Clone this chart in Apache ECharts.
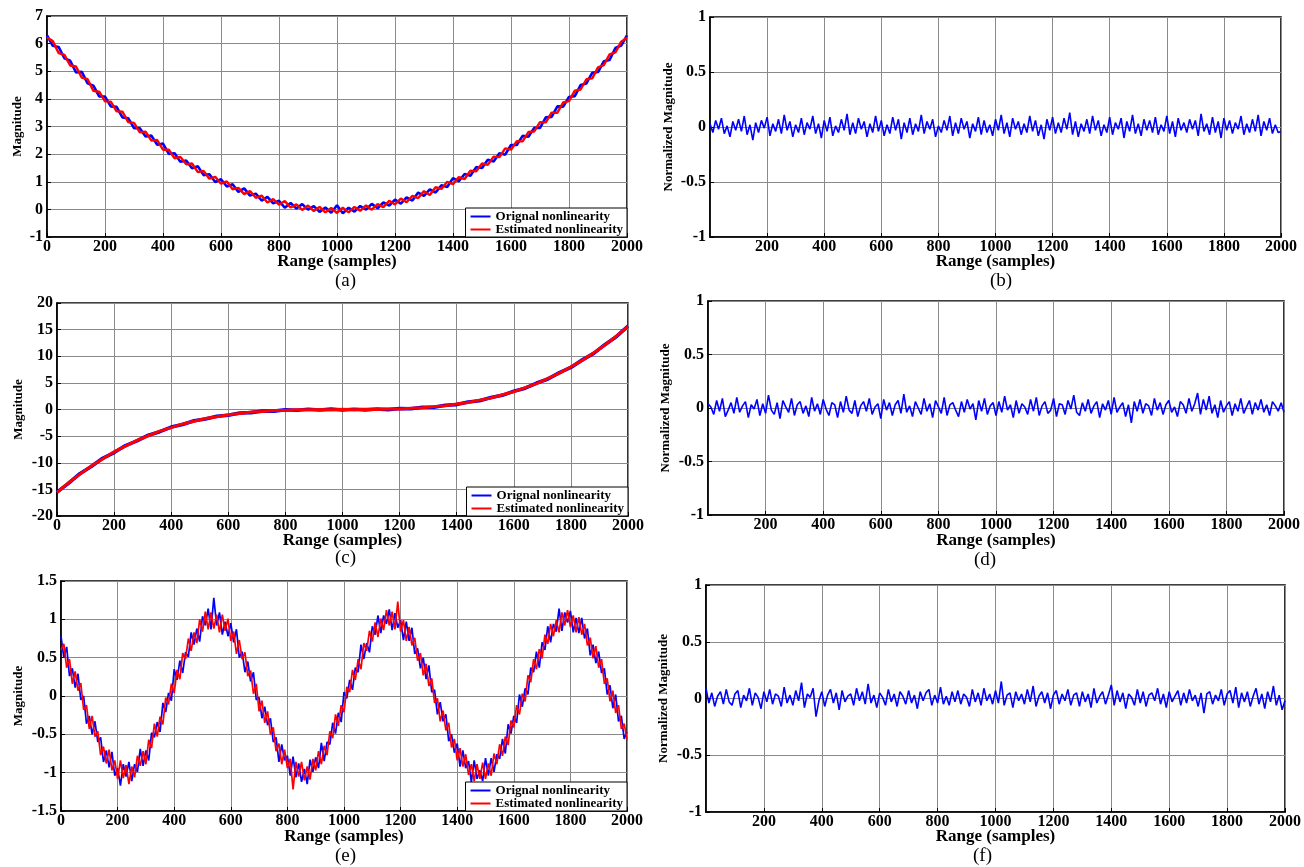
<!DOCTYPE html>
<html><head><meta charset="utf-8">
<script src="https://cdn.jsdelivr.net/npm/echarts@6/dist/echarts.min.js"></script>
<style>html,body{margin:0;padding:0;background:#fff}#c{width:1304px;height:867px}</style>
</head><body><div id="c"></div>
<script>
// ---- data ----
const panelLabels = ['(a)','(b)','(c)','(d)','(e)','(f)'];
const legendNames = ['Orignal nonlinearity','Estimated nonlinearity'];
const stepA = 20, stepC = 40, stepE = 10, stepRes = 10;

const aOriginal = [6.30,5.92,5.88,5.47,5.38,4.96,4.98,4.56,4.48,4.09,
4.08,3.73,3.71,3.33,3.30,2.94,2.94,2.64,2.67,2.34,
2.38,2.01,2.03,1.72,1.77,1.49,1.56,1.24,1.27,0.99,
1.09,0.83,0.91,0.63,0.76,0.50,0.57,0.32,0.45,0.22,
0.31,0.06,0.23,0.03,0.19,-0.01,0.12,-0.09,0.07,-0.12,
0.15,
-0.14,0.06,-0.08,0.12,-0.01,0.20,0.04,0.25,0.14,0.35,
0.21,0.43,0.32,0.61,0.49,0.72,0.61,0.87,0.81,1.13,
1.02,1.28,1.22,1.53,1.50,1.80,1.73,2.03,1.98,2.33,
2.33,2.66,2.63,2.95,2.95,3.33,3.35,3.73,3.72,4.07,
4.10,4.50,4.56,4.94,4.97,5.36,5.41,5.84,5.93,6.30];
const aEstimated = [6.22,6.09,5.66,5.59,5.21,5.17,4.77,4.71,4.29,4.26,
3.91,3.90,3.55,3.54,3.16,3.13,2.79,2.81,2.49,2.51,
2.16,2.16,1.85,1.90,1.63,1.66,1.35,1.39,1.11,1.18,
0.93,1.01,0.73,0.78,0.55,0.66,0.42,0.50,0.25,0.37,
0.17,0.30,0.07,0.18,-0.02,0.14,-0.06,0.09,-0.11,0.05,
-0.13,
0.06,-0.11,0.09,-0.05,0.14,-0.01,0.19,0.08,0.31,0.18,
0.39,0.26,0.49,0.41,0.66,0.52,0.80,0.74,1.00,0.91,
1.17,1.10,1.40,1.38,1.66,1.61,1.91,1.89,2.21,2.16,
2.47,2.46,2.80,2.82,3.16,3.15,3.50,3.50,3.87,3.92,
4.30,4.34,4.71,4.74,5.14,5.22,5.61,5.68,6.07,6.21];

const cOriginal = [-15.52,-13.88,-12.05,-10.71,-9.16,-8.08,-6.77,-5.90,-4.82,-4.17,
-3.30,-2.82,-2.12,-1.80,-1.26,-1.08,-0.66,-0.59,-0.27,-0.30,
-0.05,-0.14,0.04,-0.09,0.07,-0.08,0.06,-0.07,0.10,-0.02,
0.19,0.14,0.41,0.43,0.80,0.92,1.40,1.65,2.26,2.66,
3.44,4.01,4.97,5.74,6.92,7.91,9.32,10.55,12.22,13.72,15.65];
const cEstimated = [-15.58,-13.76,-12.18,-10.60,-9.28,-7.95,-6.88,-5.79,-4.93,-4.06,
-3.40,-2.71,-2.22,-1.70,-1.36,-0.97,-0.76,-0.48,-0.37,-0.19,
-0.15,-0.03,-0.06,0.02,-0.03,0.03,-0.03,0.04,0.00,0.09,
0.09,0.25,0.31,0.54,0.70,1.03,1.30,1.76,2.16,2.77,
3.34,4.12,4.87,5.85,6.82,8.02,9.22,10.66,12.12,13.83,15.58];

const eOriginal = [0.78,0.50,0.64,0.26,0.36,0.11,0.29,-0.05,0.00,-0.36,
-0.26,-0.50,-0.33,-0.60,-0.54,-0.86,-0.71,-0.93,-0.73,-1.04,
-0.94,-1.17,-0.89,-1.05,-0.86,-1.11,-0.89,-0.99,-0.69,-0.91,
-0.71,-0.84,-0.48,-0.54,-0.34,-0.47,-0.09,-0.21,0.04,-0.06,
0.35,0.21,0.46,0.30,0.57,0.51,0.83,0.67,0.88,0.71,
1.04,0.92,1.14,0.87,1.28,0.92,1.09,0.80,0.97,0.78,
0.95,0.70,0.87,0.50,0.58,0.31,0.45,0.19,0.31,-0.05,
-0.02,-0.29,-0.14,-0.38,-0.29,-0.60,-0.54,-0.86,-0.63,-0.84,
-0.78,-1.04,-0.79,-1.06,-0.88,-1.12,-0.95,-1.15,-0.83,-0.99,
-0.80,-0.94,-0.61,-0.85,-0.60,-0.63,-0.35,-0.49,-0.22,-0.34,
0.05,-0.03,0.21,0.08,0.37,0.31,0.67,0.48,0.69,0.57,
0.91,0.80,1.05,0.82,1.05,0.94,1.13,0.86,1.08,0.89,
0.99,0.73,0.97,0.72,0.89,0.55,0.62,0.36,0.50,0.22,
0.40,0.05,0.08,-0.24,-0.08,-0.33,-0.24,-0.59,-0.50,-0.74,
-0.62,-0.92,-0.71,-0.94,-0.85,-1.12,-0.84,-1.08,-0.97,-1.11,
-0.81,-1.04,-0.81,-0.99,-0.76,-0.82,-0.56,-0.75,-0.37,-0.49,
-0.26,-0.35,0.02,-0.14,0.10,0.02,0.37,0.31,0.58,0.37,
0.70,0.60,0.91,0.70,0.94,0.84,1.14,0.85,1.09,0.96,
1.11,0.83,1.02,0.82,1.02,0.75,0.88,0.53,0.67,0.43,
0.58,0.30,0.36,0.02,0.14,-0.16,0.02,-0.33,-0.26,-0.56,
-0.47];
const eEstimated = [0.60,0.68,0.37,0.48,0.16,0.32,0.07,0.17,-0.18,-0.12,
-0.43,-0.26,-0.53,-0.46,-0.77,-0.66,-0.88,-0.70,-0.97,-0.84,
-1.08,-0.84,-1.07,-0.90,-1.15,-0.92,-1.06,-0.78,-0.91,-0.72,
-0.89,-0.57,-0.68,-0.36,-0.53,-0.27,-0.37,-0.02,-0.11,0.16,
0.04,0.34,0.22,0.56,0.48,0.75,0.59,0.83,0.69,1.00,
0.84,1.10,0.87,1.09,0.88,1.06,0.83,1.06,0.85,1.01,
0.72,0.84,0.55,0.73,0.48,0.57,0.26,0.33,0.03,0.16,
-0.20,-0.06,-0.35,-0.20,-0.50,-0.41,-0.72,-0.62,-0.89,-0.70,
-0.94,-0.82,-1.22,-0.86,-1.05,-0.86,-1.10,-0.92,-1.09,-0.82,
-0.97,-0.72,-0.89,-0.65,-0.77,-0.46,-0.55,-0.24,-0.39,-0.12,
-0.21,0.12,0.05,0.34,0.21,0.48,0.35,0.69,0.59,0.85,
0.71,0.96,0.77,1.01,0.86,1.12,0.92,1.10,0.87,1.23,
0.84,0.99,0.72,0.90,0.66,0.76,0.46,0.56,0.27,0.42,
0.13,0.23,-0.09,-0.03,-0.33,-0.19,-0.45,-0.35,-0.67,-0.56,
-0.84,-0.68,-0.92,-0.76,-1.03,-0.89,-1.11,-0.89,-1.08,-0.87,
-1.08,-0.88,-1.04,-0.75,-0.89,-0.63,-0.78,-0.53,-0.64,-0.32,
-0.41,-0.12,-0.24,0.03,-0.07,0.27,0.18,0.48,0.35,0.61,
0.49,0.80,0.68,0.94,0.78,0.99,0.83,1.09,0.92,1.12,
0.90,1.05,0.83,1.03,0.80,0.94,0.66,0.76,0.49,0.65,
0.37,0.48,0.16,0.23,-0.07,0.07,-0.22,-0.12,-0.43,-0.36,
-0.57];

const bResidual = [0.03,-0.05,0.06,-0.02,0.08,-0.06,0.01,-0.09,0.05,-0.03,
0.07,-0.04,0.10,-0.07,0.02,-0.12,0.04,-0.05,0.06,-0.01,
0.09,-0.08,0.03,-0.04,0.07,-0.06,0.11,-0.03,0.05,-0.09,
0.02,-0.05,0.08,-0.07,0.04,-0.02,0.10,-0.06,0.03,-0.10,
0.06,-0.04,0.09,-0.08,0.01,-0.05,0.07,-0.03,0.12,-0.07,
0.04,-0.06,0.08,-0.02,0.05,-0.09,0.03,-0.05,0.10,-0.04,
0.06,-0.08,0.02,-0.06,0.09,-0.03,0.07,-0.11,0.04,-0.05,
0.08,-0.07,0.03,-0.04,0.11,-0.06,0.05,-0.02,0.07,-0.09,
0.01,-0.05,0.06,-0.03,0.10,-0.08,0.04,-0.06,0.08,-0.02,
0.05,-0.10,0.03,-0.04,0.09,-0.07,0.06,-0.05,0.02,-0.08,
0.07,-0.03,0.11,-0.06,0.04,-0.09,0.08,-0.02,0.05,-0.07,
0.03,-0.05,0.10,-0.04,0.06,-0.08,0.02,-0.11,0.07,-0.03,
0.09,-0.06,0.04,-0.05,0.08,-0.02,0.13,-0.07,0.05,-0.09,
0.03,-0.04,0.07,-0.06,0.10,-0.03,0.06,-0.08,0.02,-0.05,
0.09,-0.07,0.04,-0.02,0.08,-0.10,0.05,-0.04,0.11,-0.06,
0.03,-0.08,0.07,-0.03,0.06,-0.05,0.09,-0.07,0.02,-0.04,
0.10,-0.06,0.05,-0.09,0.08,-0.03,0.04,-0.05,0.07,-0.02,
0.06,-0.08,0.12,-0.04,0.03,-0.07,0.09,-0.05,0.05,-0.10,
0.08,-0.03,0.06,-0.06,0.04,-0.02,0.10,-0.07,0.03,-0.05,
0.07,-0.04,0.11,-0.08,0.05,-0.03,0.08,-0.06,0.02,-0.05,
-0.04];
const dResidual = [0.04,0.01,-0.06,0.07,-0.03,0.09,-0.08,-0.02,0.05,-0.05,
0.10,-0.04,0.02,0.06,-0.09,0.03,-0.01,0.08,-0.07,0.04,
-0.05,0.12,-0.02,-0.06,0.05,-0.10,0.07,0.01,-0.04,0.09,
-0.07,0.03,0.06,-0.05,0.02,-0.08,0.10,-0.03,0.04,-0.06,
0.08,-0.01,-0.07,0.05,0.03,-0.09,0.06,-0.04,0.11,-0.02,
-0.05,0.07,-0.08,0.02,0.06,-0.03,0.09,-0.06,0.01,0.04,
-0.10,0.08,-0.02,0.05,-0.07,0.03,0.07,-0.05,0.13,-0.04,
0.02,-0.08,0.06,0.00,-0.06,0.09,-0.03,0.04,-0.09,0.07,
0.01,-0.05,0.10,-0.07,0.03,0.05,-0.02,-0.08,0.06,-0.04,
0.08,-0.01,0.04,-0.11,0.07,-0.03,0.09,-0.06,0.02,0.05,
-0.07,0.06,-0.04,0.11,-0.02,0.03,-0.09,0.07,-0.05,0.04,
0.01,-0.06,0.08,-0.03,0.10,-0.07,0.02,0.06,-0.05,-0.02,
0.09,-0.08,0.04,0.03,-0.06,0.07,-0.01,0.12,-0.04,-0.07,
0.05,-0.03,0.08,-0.05,0.02,0.06,-0.09,0.04,-0.02,0.07,
-0.06,0.10,-0.04,0.01,0.05,-0.08,0.03,-0.14,0.06,-0.03,
0.08,-0.05,0.04,0.02,-0.07,0.09,-0.02,0.05,-0.06,0.03,
0.07,-0.04,0.01,-0.08,0.06,0.03,-0.05,0.09,-0.03,0.04,
0.14,-0.06,0.08,-0.02,0.11,-0.05,0.03,-0.09,0.07,-0.04,
0.02,0.06,-0.07,0.04,-0.03,0.09,-0.05,0.01,0.07,-0.06,
0.05,-0.02,0.08,-0.04,0.03,-0.07,0.06,0.02,-0.03,0.05,
-0.04];
const fResidual = [0.09,-0.04,0.05,-0.07,0.02,0.06,-0.05,0.08,-0.03,-0.06,
0.04,0.07,-0.08,0.03,-0.02,0.09,-0.06,0.05,0.01,-0.09,
0.06,-0.03,0.08,-0.05,0.04,0.02,-0.07,0.10,-0.04,0.03,
-0.06,0.07,-0.02,0.14,-0.08,0.04,0.01,0.09,-0.16,-0.02,
0.06,-0.07,0.03,0.08,-0.04,0.05,-0.10,0.07,-0.03,0.02,
0.04,-0.06,0.09,-0.02,0.06,-0.05,0.13,-0.04,0.03,-0.08,
0.05,0.01,-0.06,0.08,-0.03,0.04,-0.07,0.06,0.02,-0.05,
0.07,-0.04,0.03,-0.09,0.06,-0.02,0.05,0.08,-0.06,0.03,
-0.04,0.10,-0.05,0.02,-0.06,0.06,-0.03,0.07,-0.05,0.04,
0.01,-0.07,0.08,-0.03,0.05,-0.06,0.09,-0.02,0.04,-0.05,
0.07,-0.04,0.15,-0.06,0.03,0.05,-0.08,0.06,-0.02,0.04,
-0.05,0.08,-0.03,0.11,-0.07,0.02,0.06,-0.04,0.05,-0.09,
0.03,0.07,-0.05,0.04,-0.02,0.08,-0.06,0.03,0.05,-0.07,
0.06,-0.03,0.04,-0.08,0.09,-0.04,0.02,0.06,-0.05,0.03,
0.12,-0.06,0.07,-0.03,0.05,-0.09,0.04,0.01,-0.06,0.08,
-0.04,0.06,-0.07,0.03,0.05,-0.02,0.09,-0.05,0.04,-0.08,
0.06,-0.03,0.02,0.07,-0.06,0.05,-0.04,0.08,-0.02,0.03,
-0.07,0.05,-0.13,0.04,0.06,-0.05,0.03,-0.02,0.08,-0.06,
0.04,0.07,-0.04,0.10,-0.08,0.05,-0.03,0.06,-0.07,0.02,
0.09,-0.05,0.04,-0.09,0.06,-0.03,0.11,-0.06,0.03,-0.10,
-0.02];

// ---- chart ----
const F = '"Liberation Serif","Times New Roman",serif';
const BLUE = '#0000ff', RED = '#ff0000';
function pairs(vals, step){ return vals.map((v,i)=>[i*step, v]); }
const plain = v => String(v);

const panels = [
 {grid:{left:47,top:16,width:580,height:221}, ymin:-1,ymax:7,yint:1,yname:'Magnitude',ygap:23,xgap:16,showMin:true, title:{left:335,top:272}},
 {grid:{left:710,top:17,width:571,height:220}, ymin:-1,ymax:1,yint:0.5,yname:'Normalized Magnitude',ygap:35,xgap:16,showMin:false, title:{left:990,top:272}},
 {grid:{left:57,top:303,width:571,height:213}, ymin:-20,ymax:20,yint:5,yname:'Magnitude',ygap:32,xgap:16,showMin:true, title:{left:335,top:549}},
 {grid:{left:708,top:301,width:576,height:214}, ymin:-1,ymax:1,yint:0.5,yname:'Normalized Magnitude',ygap:36,xgap:17,showMin:false, title:{left:974,top:551}},
 {grid:{left:61,top:581,width:566,height:230}, ymin:-1.5,ymax:1.5,yint:0.5,yname:'Magnitude',ygap:36,xgap:17,showMin:true, title:{left:335,top:847}},
 {grid:{left:706,top:585,width:579,height:227}, ymin:-1,ymax:1,yint:0.5,yname:'Normalized Magnitude',ygap:36,xgap:16,showMin:false, title:{left:973,top:847}}
];

const grid = [], xAxis = [], yAxis = [], title = [];
panels.forEach((p,i)=>{
  grid.push(Object.assign({show:true, borderColor:'#000', borderWidth:1.6, backgroundColor:'#fff'}, p.grid));
  xAxis.push({type:'value', gridIndex:i, min:0, max:2000, interval:200,
    name:'Range (samples)', nameLocation:'middle', nameGap:p.xgap, nameMoveOverlap:false,
    nameTextStyle:{fontFamily:F, fontWeight:'bold', fontSize:17, color:'#000'},
    axisLine:{onZero:false, lineStyle:{color:'#000', width:1.6}},
    axisTick:{inside:true, length:4, lineStyle:{color:'#000'}},
    axisLabel:{fontFamily:F, fontWeight:'bold', fontSize:16, color:'#000', margin:2, formatter:plain, showMinLabel:p.showMin, showMaxLabel:true},
    splitLine:{show:true, lineStyle:{color:'#8a8a8a', width:1}}});
  yAxis.push({type:'value', gridIndex:i, min:p.ymin, max:p.ymax, interval:p.yint,
    name:p.yname, nameLocation:'middle', nameGap:p.ygap, nameRotate:90, nameMoveOverlap:false,
    nameTextStyle:{fontFamily:F, fontWeight:'bold', fontSize:13, color:'#000'},
    axisLine:{onZero:false, lineStyle:{color:'#000', width:1.6}},
    axisTick:{inside:true, length:4, lineStyle:{color:'#000'}},
    axisLabel:{fontFamily:F, fontWeight:'bold', fontSize:16, color:'#000', margin:4, formatter:plain, showMinLabel:true, showMaxLabel:true},
    splitLine:{show:true, lineStyle:{color:'#8a8a8a', width:1}}});
  title.push({text:panelLabels[i], left:p.title.left, top:p.title.top, padding:0,
    textStyle:{fontFamily:F, fontWeight:'normal', fontSize:19, color:'#000'}});
});

function line(name, vals, step, idx, color, w){
  return {type:'line', name:name, xAxisIndex:idx, yAxisIndex:idx, data:pairs(vals, step),
    showSymbol:false, symbol:'none', lineStyle:{color:color, width:w}, itemStyle:{color:color},
    emphasis:{disabled:true}, animation:false};
}
const series = [
  line(legendNames[0], aOriginal, stepA, 0, BLUE, 2.6),
  line(legendNames[1], aEstimated, stepA, 0, RED, 2.4),
  line('Residual (b)', bResidual, stepRes, 1, BLUE, 1.6),
  line(legendNames[0], cOriginal, stepC, 2, BLUE, 3.6),
  line(legendNames[1], cEstimated, stepC, 2, RED, 3.0),
  line('Residual (d)', dResidual, stepRes, 3, BLUE, 1.6),
  line(legendNames[0], eOriginal, stepE, 4, BLUE, 1.7),
  line(legendNames[1], eEstimated, stepE, 4, RED, 1.7),
  line('Residual (f)', fResidual, stepRes, 5, BLUE, 1.6)
];

function legendAt(right, bottom){
  return {data:legendNames, orient:'vertical', right:right, bottom:bottom, selectedMode:false,
    backgroundColor:'#fff', borderColor:'#000', borderWidth:1, padding:[2,4,1,5],
    itemGap:0, itemWidth:20, itemHeight:2, icon:'rect',
    textStyle:{fontFamily:F, fontWeight:'bold', fontSize:13, lineHeight:12, color:'#000'}};
}
const legend = [legendAt(677,630), legendAt(676,351), legendAt(677,56)];

const chart = echarts.init(document.getElementById('c'), null, {renderer:'canvas'});
chart.setOption({backgroundColor:'#fff', animation:false, title, grid, xAxis, yAxis, legend, series});
</script>
</body></html>
